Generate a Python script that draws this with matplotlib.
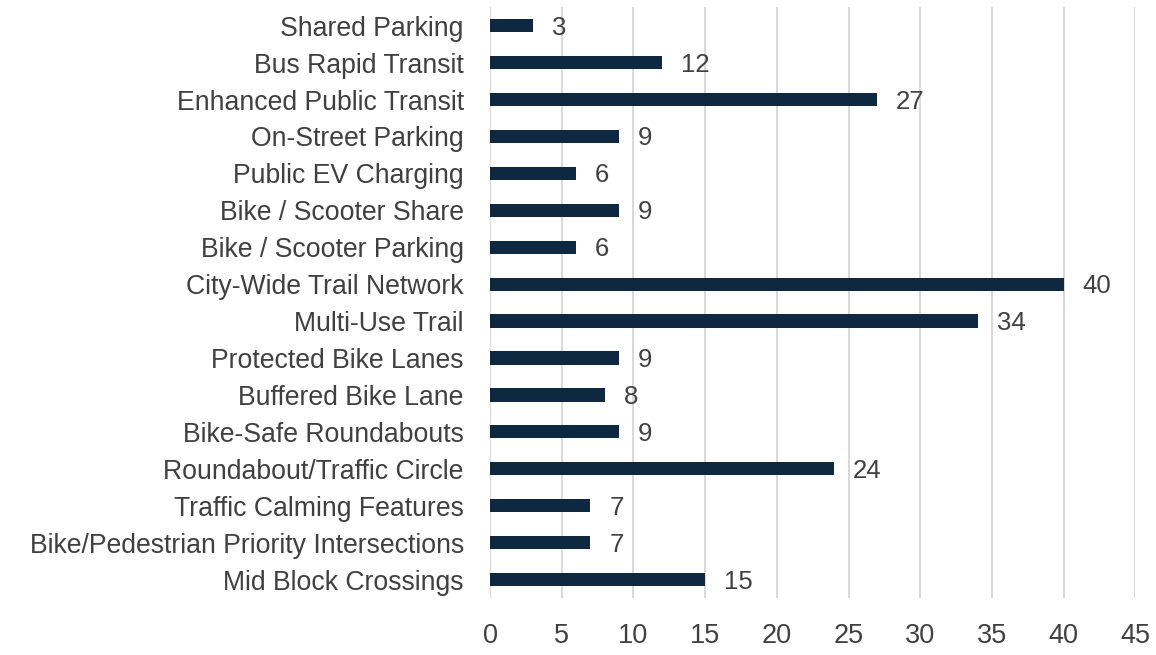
import matplotlib
matplotlib.use("Agg")
import matplotlib.pyplot as plt

# Project counts by facility type (top of chart first)
CATEGORIES = [
    "Shared Parking",
    "Bus Rapid Transit",
    "Enhanced Public Transit",
    "On-Street Parking",
    "Public EV Charging",
    "Bike / Scooter Share",
    "Bike / Scooter Parking",
    "City-Wide Trail Network",
    "Multi-Use Trail",
    "Protected Bike Lanes",
    "Buffered Bike Lane",
    "Bike-Safe Roundabouts",
    "Roundabout/Traffic Circle",
    "Traffic Calming Features",
    "Bike/Pedestrian Priority Intersections",
    "Mid Block Crossings",
]
COUNTS = [3, 12, 27, 9, 6, 9, 6, 40, 34, 9, 8, 9, 24, 7, 7, 15]
X_TICKS = [0, 5, 10, 15, 20, 25, 30, 35, 40, 45]

BAR_COLOR = "#0E2841"
TEXT_COLOR = "#404040"
GRID_COLOR = "#D9D9D9"

plt.rcParams["font.family"] = ["Liberation Sans", "DejaVu Sans"]

fig = plt.figure(figsize=(11.56, 6.55), dpi=100)
ax = fig.add_axes([0.424, 0.087, 0.558, 0.902])

ypos = list(range(len(CATEGORIES)))
ax.barh(ypos, COUNTS, height=0.36, color=BAR_COLOR, zorder=3)

for y, v in zip(ypos, COUNTS):
    ax.annotate(str(v), xy=(v, y), xytext=(19, -2), textcoords="offset pixels",
                ha="left", va="center", fontsize=18.5, color=TEXT_COLOR)

ax.set_yticks(ypos)
ax.set_yticklabels(CATEGORIES, fontsize=19.2, color=TEXT_COLOR)
ax.set_ylim(len(CATEGORIES) - 0.5, -0.5)

ax.set_xticks(X_TICKS)
ax.set_xticklabels([str(t) for t in X_TICKS], fontsize=19.5, color=TEXT_COLOR)
ax.set_xlim(0, 45)

ax.grid(axis="x", color=GRID_COLOR, linewidth=1.5, zorder=0)
ax.tick_params(axis="both", length=0)
ax.tick_params(axis="x", pad=18)
ax.tick_params(axis="y", pad=19)
for s in ax.spines.values():
    s.set_visible(False)

fig.savefig("out.png", dpi=100)
